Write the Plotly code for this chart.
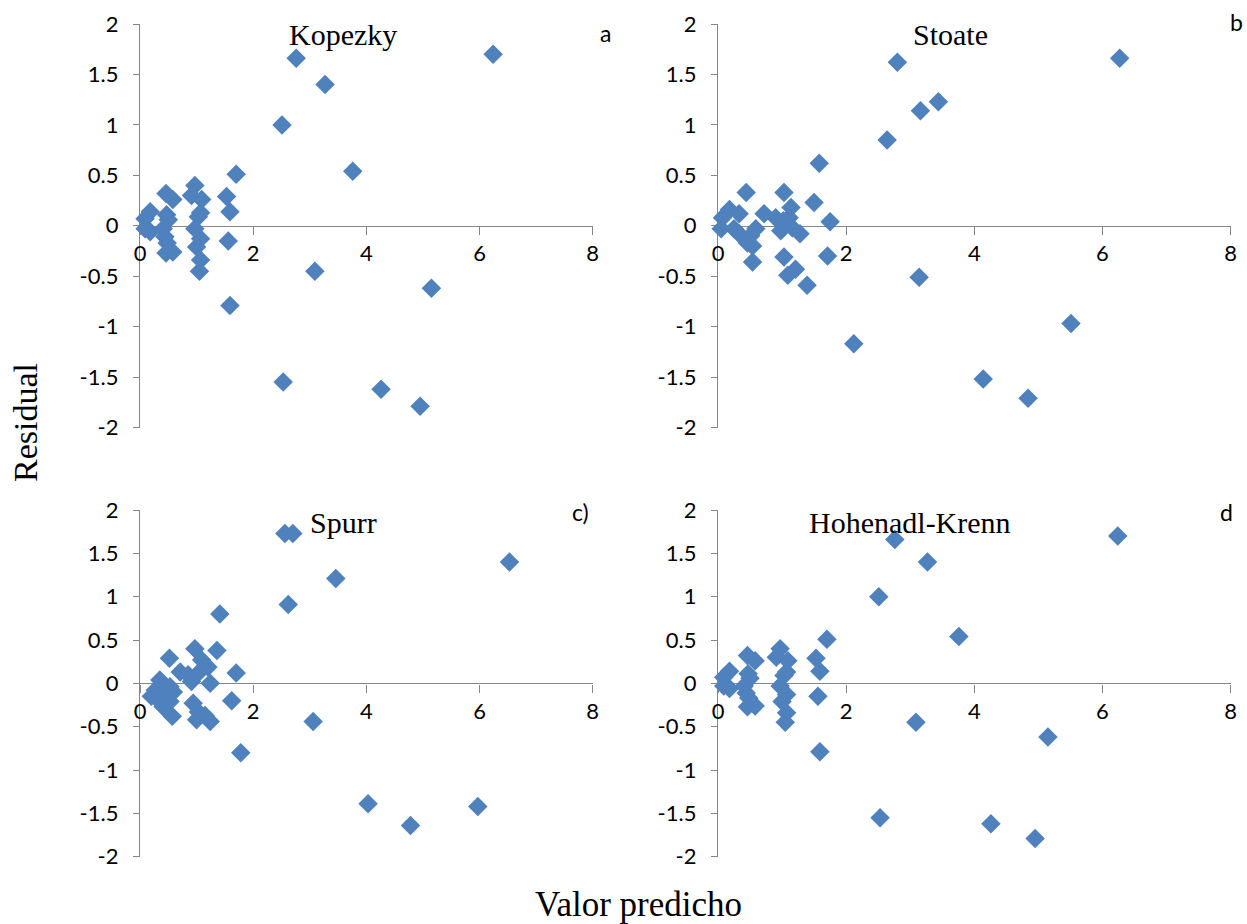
import plotly.graph_objects as go

# ---------------- data ----------------
kop_x = [6.24, 2.76, 3.27, 2.51, 3.76, 1.70, 3.09, 5.15, 1.59, 2.53, 4.26, 4.95,
         0.46, 0.58, 0.97, 0.91, 1.09, 1.53, 1.59, 1.07, 1.03, 0.18, 0.09, 0.47, 0.50,
         0.09, 0.18, 0.41, 0.97, 0.44, 0.48, 0.46, 0.58, 1.07, 1.00, 1.07, 1.05, 1.56]
kop_y = [1.70, 1.66, 1.40, 1.00, 0.54, 0.51, -0.45, -0.62, -0.79, -1.55, -1.62, -1.79,
         0.32, 0.26, 0.40, 0.30, 0.26, 0.29, 0.14, 0.13, 0.09, 0.14, 0.07, 0.11, 0.06,
         -0.03, -0.06, -0.03, -0.03, -0.11, -0.17, -0.27, -0.26, -0.13, -0.21, -0.34, -0.45, -0.15]

sto_x = [6.27, 2.80, 3.44, 3.16, 2.64, 1.58, 3.14, 5.51, 2.12, 4.14, 4.84,
         0.44, 1.03, 1.50, 1.14, 1.75, 0.18, 0.07, 0.33, 0.72, 0.90, 1.11, 1.02,
         0.05, 0.25, 0.33, 0.59, 0.51, 0.46, 0.54, 0.98, 1.16, 1.28, 0.54, 1.03,
         1.21, 1.09, 1.39, 1.71]
sto_y = [1.66, 1.62, 1.23, 1.14, 0.85, 0.62, -0.51, -0.97, -1.17, -1.52, -1.71,
         0.33, 0.33, 0.23, 0.18, 0.04, 0.16, 0.08, 0.12, 0.12, 0.08, 0.08, 0.05,
         -0.03, -0.03, -0.08, -0.03, -0.10, -0.17, -0.20, -0.05, -0.02, -0.08, -0.36, -0.31,
         -0.43, -0.49, -0.59, -0.30]

spu_x = [2.56, 2.70, 2.62, 3.46, 6.53, 1.41, 3.06, 1.78, 4.03, 4.78, 5.97,
         0.97, 1.36, 0.52, 1.09, 1.20, 0.71, 1.70, 0.85, 1.03, 0.91, 1.24, 0.35,
         0.53, 0.27, 0.38, 0.59, 0.20, 0.32, 0.53, 0.41, 0.94, 1.62, 0.57, 1.03,
         1.00, 1.24, 1.15]
spu_y = [1.73, 1.73, 0.91, 1.21, 1.40, 0.80, -0.44, -0.80, -1.39, -1.64, -1.42,
         0.40, 0.38, 0.29, 0.27, 0.19, 0.13, 0.12, 0.10, 0.12, 0.02, 0.00, 0.04,
         -0.04, -0.08, -0.10, -0.10, -0.15, -0.19, -0.21, -0.27, -0.23, -0.20, -0.38, -0.33,
         -0.42, -0.44, -0.37]

hk_x = list(kop_x)
hk_y = list(kop_y)

panels = [
    ("Kopezky", "a", kop_x, kop_y),
    ("Stoate", "b", sto_x, sto_y),
    ("Spurr", "c)", spu_x, spu_y),
    ("Hohenadl-Krenn", "d", hk_x, hk_y),
]

y_ticks = [-2, -1.5, -1, -0.5, 0, 0.5, 1, 1.5, 2]
y_ticktext = ["-2", "-1.5", "-1", "-0.5", "0", "0.5", "1", "1.5", "2"]
x_ticks = [0, 2, 4, 6, 8]
x_ticktext = ["0", "2", "4", "6", "8"]

# ---------------- layout geometry (pixels) ----------------
W, H = 1247, 924
xdom_px = [(140, 592.7), (718, 1230.5), (140, 592.7), (718, 1230.5)]
ydom_px = [(24, 427.5), (24, 427.5), (510, 856.7), (510, 856.7)]

def px2x(p):
    return p / W

def py2y(p):
    return 1 - p / H

AXC = "#868686"
TICKFONT = dict(family="Lato, Open Sans, sans-serif", size=22, color="#000000")
SERIF = "Liberation Serif, Times New Roman, serif"

fig = go.Figure()
layout = dict(
    template="none",
    width=W, height=H,
    margin=dict(l=0, r=0, t=0, b=0, pad=0),
    paper_bgcolor="white", plot_bgcolor="white",
    showlegend=False,
)

annotations = []
title_pos = [(343, 34), (950, 34), (343, 522), (910, 522)]
letter_pos = [(605, 33), (1236, 22), (580, 512), (1226, 512)]

for i, (title, letter, xs, ys) in enumerate(panels):
    n = i + 1
    xa = "xaxis" if n == 1 else f"xaxis{n}"
    ya = "yaxis" if n == 1 else f"yaxis{n}"
    xr = "x" if n == 1 else f"x{n}"
    yr = "y" if n == 1 else f"y{n}"
    x0, x1 = xdom_px[i]
    ytop, ybot = ydom_px[i]
    ydom = [py2y(ybot), py2y(ytop)]
    zero_px = (ytop + ybot) / 2
    fig.add_trace(go.Scatter(
        x=xs, y=ys, mode="markers", xaxis=xr, yaxis=yr,
        marker=dict(symbol="diamond", size=15, color="#4F81BD", line=dict(width=0)),
        cliponaxis=False, hoverinfo="x+y",
    ))
    layout[xa] = dict(
        domain=[px2x(x0), px2x(x1)], range=[0, 8], anchor="free",
        position=py2y(zero_px), showgrid=False, zeroline=False, automargin=False,
        showline=True, linecolor=AXC, linewidth=1.3,
        ticks="outside", ticklen=8, tickcolor=AXC, tickwidth=1.3,
        tickvals=x_ticks, ticktext=x_ticktext, tickfont=TICKFONT,
        layer="below traces", fixedrange=True,
    )
    layout[ya] = dict(
        domain=ydom, range=[-2, 2], anchor=xr,
        showgrid=False, zeroline=False, automargin=False,
        showline=True, linecolor=AXC, linewidth=1.3,
        ticks="outside", ticklen=6, tickcolor=AXC, tickwidth=1.3,
        tickvals=y_ticks, ticktext=y_ticktext, tickfont=TICKFONT,
        ticklabelstandoff=10, layer="below traces", fixedrange=True,
    )
    tx, ty = title_pos[i]
    annotations.append(dict(
        text=title, x=px2x(tx), y=py2y(ty), xref="paper", yref="paper",
        xanchor="center", yanchor="middle", showarrow=False,
        font=dict(family=SERIF, size=30, color="#000000"),
    ))
    lx, ly = letter_pos[i]
    annotations.append(dict(
        text=letter, x=px2x(lx), y=py2y(ly), xref="paper", yref="paper",
        xanchor="center", yanchor="middle", showarrow=False,
        font=dict(family="Lato, Open Sans, sans-serif", size=23, color="#000000"),
    ))

annotations.append(dict(
    text="Residual", x=px2x(25), y=py2y(423), xref="paper", yref="paper",
    xanchor="center", yanchor="middle", showarrow=False, textangle=-90,
    font=dict(family=SERIF, size=34, color="#000000"),
))
annotations.append(dict(
    text="Valor predicho", x=px2x(638), y=py2y(904), xref="paper", yref="paper",
    xanchor="center", yanchor="middle", showarrow=False,
    font=dict(family=SERIF, size=35, color="#000000"),
))
layout["annotations"] = annotations
fig.update_layout(**layout)
fig.write_html("out.html")
